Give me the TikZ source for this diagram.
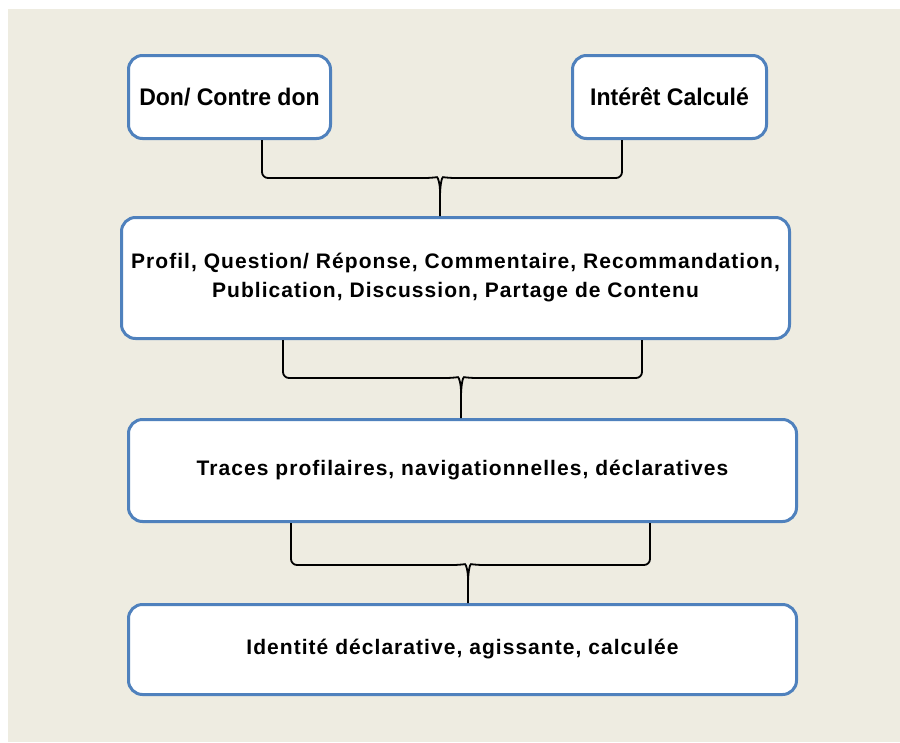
\documentclass[tikz,border=0pt]{standalone}
\usepackage{fontspec}
\setmainfont{Liberation Sans}
\newfontfamily\boitefont[LetterSpace=5]{Liberation Sans}
\newfontfamily\hautfont[FakeStretch=0.96]{Liberation Sans}
\usetikzlibrary{positioning}

\definecolor{fondbeige}{HTML}{EEECE1}
\definecolor{bordbleu}{HTML}{4F81BD}

\begin{document}
\begin{tikzpicture}[
    x=1pt, y=-1pt,
    boite/.style={rectangle, rounded corners=14pt, draw=bordbleu, fill=white, line width=3pt,
        align=center, inner sep=4pt, font=\boitefont\fontsize{21}{29}\selectfont\bfseries},
    boite_haut/.style={boite, minimum height=83pt, font=\hautfont\fontsize{24}{29}\selectfont\bfseries},
    accolade/.style={draw=black, line width=1.8pt, rounded corners=6pt}
]

% Fond
\useasboundingbox (0,0) rectangle (900,742);
\fill[fondbeige] (8,9) rectangle (900,742);

% Boites du haut
\node (don) at (229.5,97) [boite_haut, minimum width=202pt] {Don/ Contre don};
\node (interet) at (669.5,97) [boite_haut, minimum width=194pt] {Intérêt Calculé};

% Activites
\node (activites) at (455.5,278) [boite, minimum width=668pt, minimum height=121pt]
    {Profil, Question/ Réponse, Commentaire, Recommandation,\\Publication, Discussion, Partage de Contenu};

% Traces
\node (traces) at (462.5,470.5) [boite, minimum width=668pt, minimum height=102pt]
    {Traces profilaires, navigationnelles, déclaratives};

% Identite
\node (identite) at (462.5,649.5) [boite, minimum width=668pt, minimum height=90pt]
    {Identité déclarative, agissante, calculée};

% Points des accolades
\coordinate (g1) at (262,140);  \coordinate (d1) at (622,140);  \coordinate (m1) at (440,178);
\coordinate (g2) at (283,340);  \coordinate (d2) at (642,340);  \coordinate (m2) at (461,378);
\coordinate (g3) at (291,523);  \coordinate (d3) at (650,523);  \coordinate (m3) at (468,565);

% Accolades
\draw[accolade] (g1 |- don.south) -- (g1 |- m1) -- ([xshift=-9pt]m1) .. controls ([xshift=-2pt,yshift=1pt]m1) and ([yshift=-6pt]m1) .. ([yshift=-20pt]m1) -- (m1 |- activites.north);
\draw[accolade] (d1 |- interet.south) -- (d1 |- m1) -- ([xshift=9pt]m1) .. controls ([xshift=2pt,yshift=1pt]m1) and ([yshift=-6pt]m1) .. ([yshift=-20pt]m1);

\draw[accolade] (g2 |- activites.south) -- (g2 |- m2) -- ([xshift=-9pt]m2) .. controls ([xshift=-2pt,yshift=1pt]m2) and ([yshift=-6pt]m2) .. ([yshift=-20pt]m2) -- (m2 |- traces.north);
\draw[accolade] (d2 |- activites.south) -- (d2 |- m2) -- ([xshift=9pt]m2) .. controls ([xshift=2pt,yshift=1pt]m2) and ([yshift=-6pt]m2) .. ([yshift=-20pt]m2);

\draw[accolade] (g3 |- traces.south) -- (g3 |- m3) -- ([xshift=-9pt]m3) .. controls ([xshift=-2pt,yshift=1pt]m3) and ([yshift=-6pt]m3) .. ([yshift=-20pt]m3) -- (m3 |- identite.north);
\draw[accolade] (d3 |- traces.south) -- (d3 |- m3) -- ([xshift=9pt]m3) .. controls ([xshift=2pt,yshift=1pt]m3) and ([yshift=-6pt]m3) .. ([yshift=-20pt]m3);

\end{tikzpicture}
\end{document}
